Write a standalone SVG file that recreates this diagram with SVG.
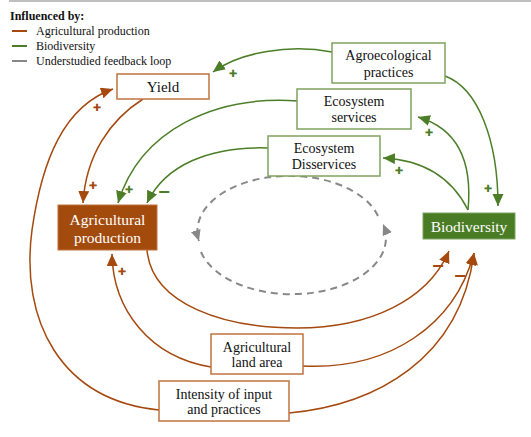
<svg xmlns="http://www.w3.org/2000/svg" width="531" height="437" viewBox="0 0 531 437">
<style>
.t{font-family:"Liberation Serif","Times New Roman",serif;fill:#111;}
.lg{font-size:12px;}
.bx{font-size:14px;text-anchor:middle;}
.wt{fill:#fff;font-size:15.5px;text-anchor:middle;font-family:"Liberation Serif","Times New Roman",serif;}
.ob{fill:#fff;stroke:#C0733F;stroke-width:1.5;}
.gb{fill:#fff;stroke:#7FA35F;stroke-width:1.5;}
.oc{fill:none;stroke:#A5490E;stroke-width:1.5;marker-end:url(#ao);}
.gc{fill:none;stroke:#4C7E28;stroke-width:1.5;marker-end:url(#ag);}
.dc{fill:none;stroke:#888;stroke-width:2;stroke-dasharray:7 5;marker-end:url(#ad);}
.sg{font-family:"DejaVu Sans",sans-serif;font-weight:bold;font-size:10px;text-anchor:middle;}
.mn{font-family:"DejaVu Sans",sans-serif;font-weight:bold;font-size:16px;text-anchor:middle;}
.so{fill:#A5490E;}
.sgr{fill:#4C7E28;}
</style>
<defs>
<marker id="ao" markerUnits="userSpaceOnUse" markerWidth="13" markerHeight="12" refX="12" refY="5.5" orient="auto"><path d="M0,0 L12,5.5 L0,11 z" fill="#A5490E"/></marker>
<marker id="ag" markerUnits="userSpaceOnUse" markerWidth="13" markerHeight="12" refX="12" refY="5.5" orient="auto"><path d="M0,0 L12,5.5 L0,11 z" fill="#4C7E28"/></marker>
<marker id="ad" markerUnits="userSpaceOnUse" markerWidth="12" markerHeight="11" refX="11" refY="5" orient="auto"><path d="M0,0 L11,5 L0,10 z" fill="#888"/></marker>
</defs>
<line x1="9" y1="1" x2="531" y2="1" stroke="#aaa" stroke-width="1.5"/>
<g id="legend">
<text class="t lg" x="10" y="20" font-weight="bold">Influenced by:</text>
<line x1="12" y1="31" x2="27" y2="31" stroke="#A5490E" stroke-width="2"/>
<text class="t lg" x="36" y="35">Agricultural production</text>
<line x1="12" y1="46" x2="27" y2="46" stroke="#4C7E28" stroke-width="2"/>
<text class="t lg" x="36" y="50">Biodiversity</text>
<line x1="12" y1="61" x2="27" y2="61" stroke="#888" stroke-width="2"/>
<text class="t lg" x="36" y="65">Understudied feedback loop</text>
</g>
<g id="connectors">
<path class="gc" d="M332,52 C290,44 240,52 213,72"/>
<path class="oc" d="M143,99 C110,120 86,155 83,203"/>
<path class="oc" d="M159,410 C60,400 20,320 32,230 C42,160 64,106 113,89"/>
<path class="oc" d="M211,367 C150,357 113,310 112,254"/>
<path class="oc" d="M147,250 C152,305 225,328 297,328 C370,328 428,300 449,251"/>
<path class="oc" d="M303,366 C390,370 455,325 474,253"/>
<path class="oc" d="M289,413 C375,405 460,360 474,253"/>
<path class="gc" d="M468,210 C472,168 462,130 418,117"/>
<path class="gc" d="M468,210 C452,178 425,160 383,158"/>
<path class="gc" d="M445,76 C478,88 498,140 498,206"/>
<path class="gc" d="M298,101 C215,95 140,130 118,203"/>
<path class="gc" d="M268,148 C210,146 165,165 147,203"/>
<path class="dc" d="M378,216 A92,55 0 0 0 199,241"/>
<path class="dc" d="M201,252 A92,55 0 0 0 383,224"/>
<text class="sg sgr" x="233" y="77">✚</text>
<text class="sg so" x="93" y="189">✚</text>
<text class="sg so" x="97" y="111">✚</text>
<text class="sg sgr" x="129" y="193">✚</text>
<text class="mn sgr" x="164" y="197">−</text>
<text class="sg so" x="122" y="275">✚</text>
<text class="sg sgr" x="429" y="136">✚</text>
<text class="sg sgr" x="399" y="174">✚</text>
<text class="sg sgr" x="488" y="192">✚</text>
<text class="mn so" x="438" y="271">−</text>
<text class="mn so" x="460" y="281">−</text>
</g>
<g id="yield">
<rect class="ob" x="117" y="74" width="92" height="25"/>
<text class="t" x="163" y="92" font-size="15" text-anchor="middle">Yield</text>
</g>
<g id="agroecological">
<rect class="gb" x="332" y="43" width="113" height="40"/>
<text class="t bx" x="388.5" y="60">Agroecological</text>
<text class="t bx" x="388.5" y="77">practices</text>
</g>
<g id="services">
<rect class="gb" x="297" y="89" width="114" height="40"/>
<text class="t bx" x="354" y="106">Ecosystem</text>
<text class="t bx" x="354" y="122">services</text>
</g>
<g id="disservices">
<rect class="gb" x="268" y="136" width="112" height="40"/>
<text class="t bx" x="324" y="153">Ecosystem</text>
<text class="t bx" x="324" y="169">Disservices</text>
</g>
<g id="production">
<rect x="58" y="205" width="99" height="45" fill="#A34B0C" stroke="#C0733F" stroke-width="1"/>
<text class="wt" x="107.5" y="225">Agricultural</text>
<text class="wt" x="107.5" y="243">production</text>
</g>
<g id="biodiversity">
<rect x="423" y="213" width="92" height="26" fill="#4A7B25" stroke="#7FA35F" stroke-width="1"/>
<text class="wt" x="469" y="232">Biodiversity</text>
</g>
<g id="landarea">
<rect class="ob" x="211" y="334" width="92" height="40"/>
<text class="t bx" x="257" y="352">Agricultural</text>
<text class="t bx" x="257" y="367">land area</text>
</g>
<g id="intensity">
<rect class="ob" x="159" y="381" width="130" height="40"/>
<text class="t bx" x="224" y="399">Intensity of input</text>
<text class="t bx" x="224" y="414">and practices</text>
</g>
</svg>
